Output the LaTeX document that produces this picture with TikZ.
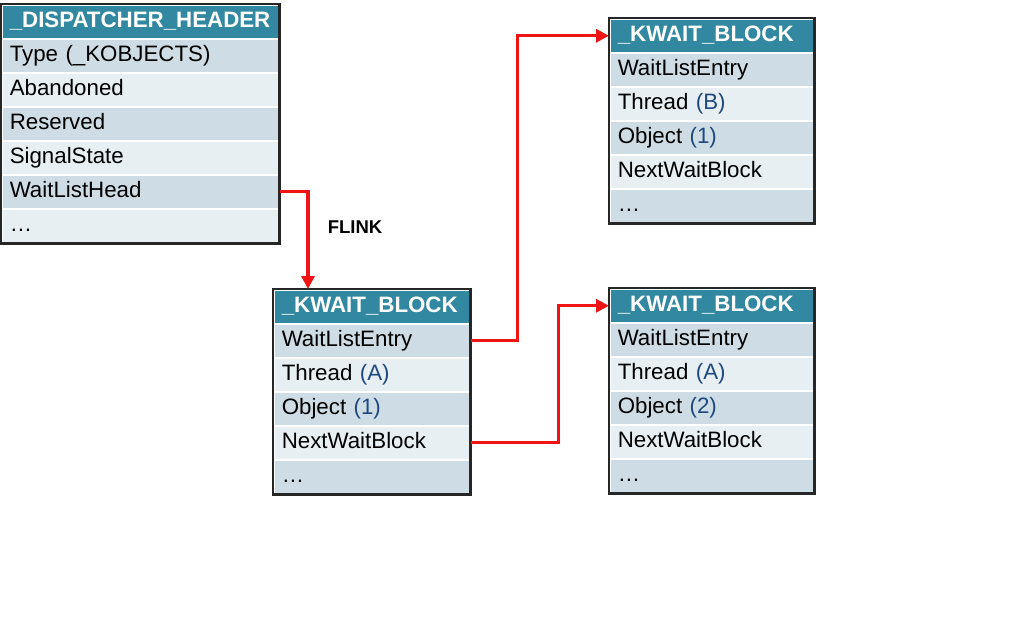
\documentclass[tikz,border=0pt]{standalone}
\usepackage{fontspec}
\setmainfont{Liberation Sans}
\usetikzlibrary{arrows.meta,calc}
\definecolor{hdrteal}{RGB}{49,136,160}
\definecolor{rowdark}{RGB}{206,221,229}
\definecolor{rowlight}{RGB}{232,239,243}
\definecolor{valblue}{RGB}{31,73,125}
\definecolor{linkred}{RGB}{240,20,20}
\newcommand\val[1]{\textcolor{valblue}{#1}}
\tikzset{
  x=1pt, y=-1pt,
  hdr/.style={fill=hdrteal, draw=white, line width=1.5pt, minimum height=34pt, inner xsep=8pt, inner ysep=0pt,
    text height=16pt, text depth=4pt,
    anchor=north west, text=white, font=\fontsize{22.3}{24}\selectfont\bfseries, align=left},
  rowcell/.style={draw=white, line width=1.5pt, minimum height=34pt, inner xsep=8pt, inner ysep=0pt,
    text height=16pt, text depth=4.5pt,
    anchor=north west, text=black, font=\fontsize{22.3}{24}\selectfont, align=left},
  frame/.style={draw=black!85, line width=2.2pt},
  link/.style={draw=linkred, line width=3.2pt, -{Triangle[length=13pt,width=13pt]}},
}
% #1 name, #2 x, #3 y, #4 width, #5 header, #6 number of rows, #7 rows
\newcommand\structbox[7]{%
  \node[hdr, minimum width=#4pt, text width={#4pt-16pt}] (#1-h) at (#2,#3) {#5};
  \foreach \t [count=\i] in {#7} {
    \pgfmathsetmacro\rowy{#3+34*\i}
    \ifodd\i\def\rc{rowdark}\else\def\rc{rowlight}\fi
    \node[rowcell, fill=\rc, minimum width=#4pt, text width={#4pt-16pt}] (#1-\i) at (#2,\rowy) {\t};
  }
  \draw[frame] (#1-h.north west) rectangle (#1-#6.south east);
}
\begin{document}
\begin{tikzpicture}
\useasboundingbox (0,0) rectangle (1024,640);
\structbox{d}{1}{4}{277}{\_DISPATCHER\_HEADER}{6}{Type (\_KOBJECTS),Abandoned,Reserved,SignalState,WaitListHead,…}
\structbox{k1}{273}{289}{196}{\_KWAIT\_BLOCK}{5}{WaitListEntry,Thread \val{(A)},Object \val{(1)},NextWaitBlock,…}
\structbox{k2}{609}{18}{204}{\_KWAIT\_BLOCK}{5}{WaitListEntry,Thread \val{(B)},Object \val{(1)},NextWaitBlock,…}
\structbox{k3}{609}{288}{204}{\_KWAIT\_BLOCK}{5}{WaitListEntry,Thread \val{(A)},Object \val{(2)},NextWaitBlock,…}
\node[font=\fontsize{18.5}{20}\selectfont\bfseries] (flink) at (355,227) {FLINK};
\coordinate (k1top) at ($(k1-h.north west)+(35,0)$);
\draw[link] (d-5.east) -| (k1top);
\draw[link] (k1-1.east) -- ++(47,0) |- (k2-h.west);
\draw[link] (k1-4.east) -- ++(88,0) |- (k3-h.west);
\end{tikzpicture}
\end{document}
